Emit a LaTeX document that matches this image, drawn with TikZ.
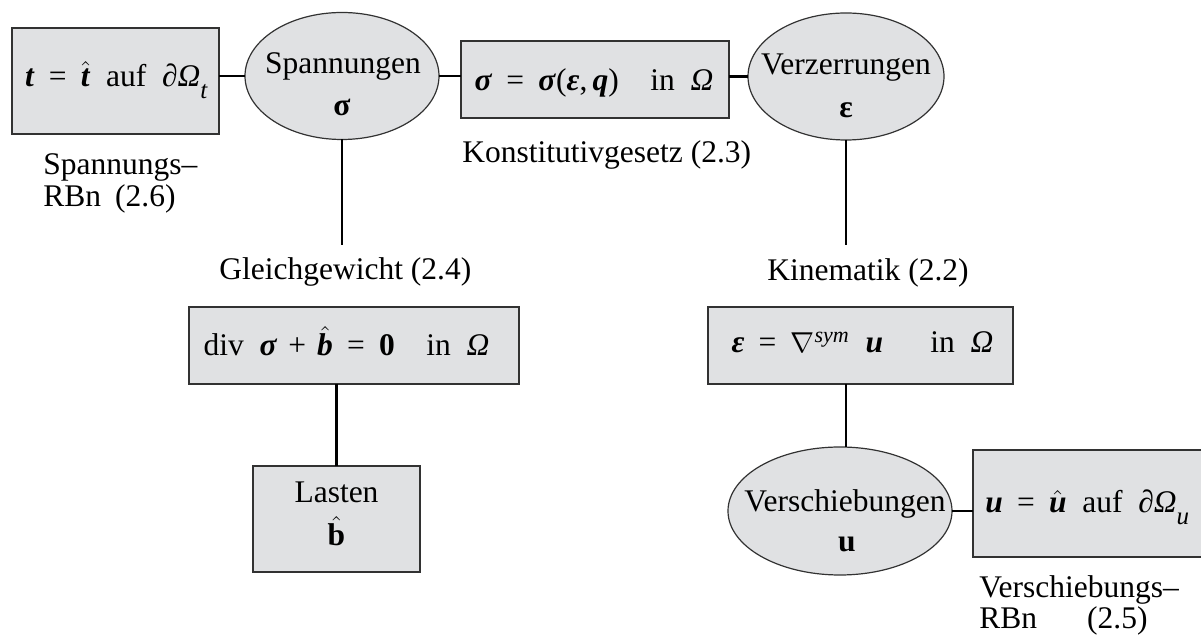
\documentclass[tikz,border=0pt]{standalone}
\usepackage{fontspec}
\setmainfont{Liberation Serif}
\usetikzlibrary{shapes.geometric}
\definecolor{boxgray}{RGB}{224,225,227}
\definecolor{edgegray}{RGB}{50,50,50}
\newcommand\bfit[1]{\textbf{\textit{#1}}}
\newcommand\hatover[1]{$\hat{\hbox{#1}}$}
\newcommand\lowsub[1]{\raisebox{-0.35em}{\fontsize{12.5}{12.5}\selectfont\textit{#1}}}
\newcommand\eqsign{\hspace{0.45em}=\hspace{0.45em}}
\tikzset{
  boxshape/.style={rectangle, draw=edgegray, fill=boxgray, line width=0.6pt, inner sep=0pt, outer sep=0pt},
  ellshape/.style={ellipse, draw=edgegray, fill=boxgray, line width=0.6pt, inner sep=0pt, outer sep=0pt},
  conn/.style={line width=1.2pt, black},
  txt/.style={inner sep=0pt, anchor=base, font=\fontsize{15.75}{16}\selectfont},
  ltxt/.style={txt, anchor=base west}
}
\begin{document}
\begin{tikzpicture}[x=0.5pt, y=-0.5pt]
\useasboundingbox (0,0) rectangle (1201,635);
% shapes
\node[boxshape, minimum width=103.5pt, minimum height=53pt] (tbox) at (115.5,81) {};
\node[ellshape, minimum width=97pt, minimum height=63.5pt] (S) at (342,76) {};
\node[boxshape, minimum width=134pt, minimum height=38.5pt] (sig) at (595,79.5) {};
\node[ellshape, minimum width=98pt, minimum height=63.5pt] (V) at (846,76.5) {};
\node[boxshape, minimum width=165pt, minimum height=38.5pt] (div) at (354,345.5) {};
\node[boxshape, minimum width=152.5pt, minimum height=38.5pt] (eps) at (860.5,345.5) {};
\node[boxshape, minimum width=83.5pt, minimum height=53pt] (last) at (336.5,519) {};
\node[ellshape, minimum width=112pt, minimum height=64pt] (Vs) at (840,511) {};
\node[boxshape, minimum width=118.5pt, minimum height=53.5pt] (ubox) at (1091.5,503.5) {};
\coordinate (gS) at (342,245);
\coordinate (gV) at (846,245);
% connectors
\draw[conn] (tbox.east |- S.west) -- (S.west);
\draw[conn] (S.east) -- (S.east -| sig.west);
\draw[conn] (V.west -| sig.east) -- (V.west);
\draw[conn] (S.south) -- (gS);
\draw[conn] (V.south) -- (gV);
\draw[conn] (last.north |- div.south) -- (last.north);
\draw[conn] (eps.south -| V.south) -- (V.south |- Vs.north);
\draw[conn] (Vs.east) -- (Vs.east -| ubox.west);
% texts
\node[txt] (tform) at (116.5,87) {\bfit{t}\eqsign\hatover{\bfit{t}}\ \ auf\ \ ∂\textit{Ω}\lowsub{t}};
\node[txt] (Slab) at (343,74) {Spannungen};
\node[txt] (Ssym) at (342,116) {\textbf{σ}};
\node[txt] (sigform) at (594,91) {\bfit{σ}\eqsign\bfit{σ}(\bfit{ε},\,\bfit{q})\quad in\ \ \textit{Ω}};
\node[txt] (Vlab) at (846,75) {Verzerrungen};
\node[txt] (Vsym) at (846,118) {\textbf{ε}};
\node[ltxt] (srb1) at (43,175) {Spannungs–};
\node[ltxt] (srb2) at (43,207) {RBn\hspace{7pt}(2.6)};
\node[ltxt] (konst) at (462,163) {Konstitutivgesetz (2.3)};
\node[ltxt] (gleich) at (219,280) {Gleichgewicht (2.4)};
\node[ltxt] (kin) at (767,281) {Kinematik (2.2)};
\node[txt] (divform) at (346.5,356) {div\ \ \bfit{σ}\hspace{0.35em}+\hspace{0.35em}\hatover{\bfit{b}}\eqsign\textbf{0}\quad in\ \ \textit{Ω}};
\node[txt] (epsform) at (862.5,353) {\bfit{ε}\eqsign$\nabla$\textsuperscript{\textit{sym}}\ \ \bfit{u}\quad\ \ in\ \ \textit{Ω}};
\node[txt] (llab) at (336.5,503) {Lasten};
\node[txt] (lsym) at (336.5,546) {\hatover{\textbf{b}}};
\node[txt] (Vslab) at (845,512) {Verschiebungen};
\node[txt] (Vssym) at (847,552) {\textbf{u}};
\node[ltxt] (uform) at (985,513) {\bfit{u}\eqsign\hatover{\bfit{u}}\ \ auf\ \ ∂\textit{Ω}\lowsub{u}};
\node[ltxt] (vrb1) at (979,598) {Verschiebungs–};
\node[ltxt] (vrb2) at (979,629) {RBn\hspace{25pt}(2.5)};
\end{tikzpicture}
\end{document}
